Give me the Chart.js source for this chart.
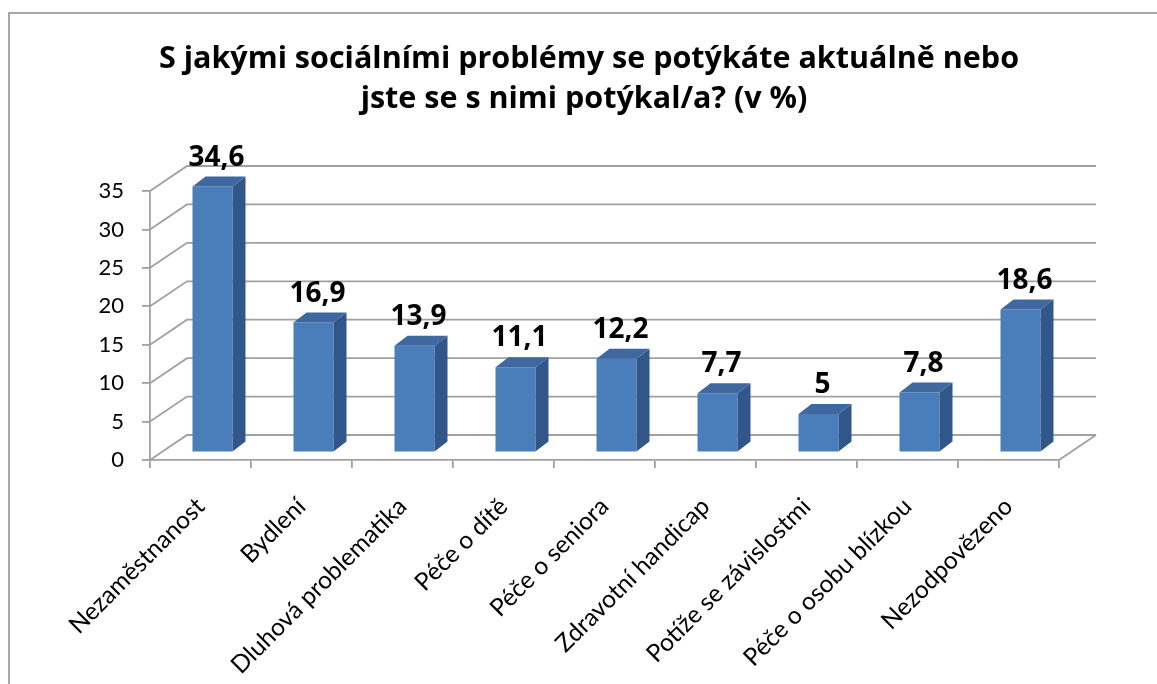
<!DOCTYPE html>
<html>
<head>
<meta charset="utf-8">
<script src="https://cdn.jsdelivr.net/npm/chart.js@4.4.1/dist/chart.umd.min.js"></script>
<style>
  html,body{margin:0;padding:0;background:#fff;}
  #wrap{width:1157px;height:684px;position:relative;}
</style>
</head>
<body>
<div id="wrap"><canvas id="cBar"></canvas></div>
<script>
// data
const kategorie = ['Nezaměstnanost','Bydlení','Dluhová problematika','Péče o dítě','Péče o seniora','Zdravotní handicap','Potíže se závislostmi','Péče o osobu blízkou','Nezodpovězeno'];
const hodnoty   = [34.6, 16.9, 13.9, 11.1, 12.2, 7.7, 5, 7.8, 18.6];
const titulek   = ['S jakými sociálními problémy se potýkáte aktuálně nebo', 'jste se s nimi potýkal/a? (v %)'];
const osaY      = { min:0, max:35, krok:5 };

const FONT = 'Lato, "Open Sans", sans-serif';
const FONT_B = '"Open Sans", Lato, sans-serif';
const GRID = '#a0a0a0';

// 3D look: back wall depth, bar plane shift, bar depth
const WALL = { dx:37, dy:-25 };
const PLANE = { dx:12, dy:-7.5 };
const DEPTH = { dx:13, dy:-10 };
const BAR = { front:'#4a7ebb', side:'#31568a', top:'#3e689f' };

const fmt = v => String(v).replace('.', ',');

const ramecek = {
  id:'ramecek',
  beforeDraw(chart){
    const ctx = chart.ctx;
    ctx.save();
    ctx.strokeStyle = '#8a8a8a';
    ctx.lineWidth = 1.5;
    ctx.beginPath();
    ctx.moveTo(9, chart.height + 2);
    ctx.lineTo(9, 13);
    ctx.lineTo(chart.width + 2, 13);
    ctx.stroke();
    // title
    ctx.fillStyle = '#000';
    ctx.font = 'bold 30.5px ' + FONT_B;
    ctx.textAlign = 'center';
    ctx.textBaseline = 'alphabetic';
    ctx.fillText(titulek[0], 589, 68);
    ctx.fillText(titulek[1], 584, 108);
    ctx.restore();
  }
};

const steny = {
  id:'steny',
  beforeDatasetsDraw(chart){
    const { ctx, chartArea:a, scales:{ y } } = chart;
    ctx.save();
    ctx.strokeStyle = GRID;
    ctx.lineWidth = 1.8;
    ctx.beginPath();
    for (let v = osaY.min; v <= osaY.max; v += osaY.krok){
      const py = y.getPixelForValue(v);
      ctx.moveTo(a.left, py);
      ctx.lineTo(a.left + WALL.dx, py + WALL.dy);
      ctx.lineTo(a.right + WALL.dx, py + WALL.dy);
    }
    ctx.moveTo(a.right, a.bottom);
    ctx.lineTo(a.right + WALL.dx, a.bottom + WALL.dy);
    ctx.stroke();
    ctx.restore();
    // bars front faces are drawn shifted into the depth
    ctx.save();
    ctx.translate(PLANE.dx, PLANE.dy);
  },
  afterDatasetsDraw(chart){
    const ctx = chart.ctx;
    ctx.restore();
    const meta = chart.getDatasetMeta(0);
    ctx.save();
    meta.data.forEach((bar, i) => {
      const l = bar.x - bar.width/2 + PLANE.dx;
      const r = bar.x + bar.width/2 + PLANE.dx;
      const t = bar.y + PLANE.dy;
      const b = bar.base + PLANE.dy;
      // side
      ctx.fillStyle = BAR.side;
      ctx.beginPath();
      ctx.moveTo(r, t); ctx.lineTo(r + DEPTH.dx, t + DEPTH.dy);
      ctx.lineTo(r + DEPTH.dx, b + DEPTH.dy); ctx.lineTo(r, b);
      ctx.closePath(); ctx.fill();
      // top
      ctx.fillStyle = BAR.top;
      ctx.beginPath();
      ctx.moveTo(l, t); ctx.lineTo(l + DEPTH.dx, t + DEPTH.dy);
      ctx.lineTo(r + DEPTH.dx, t + DEPTH.dy); ctx.lineTo(r, t);
      ctx.closePath(); ctx.fill();
      // value label
      ctx.fillStyle = '#000';
      ctx.font = 'bold 28px ' + FONT_B;
      ctx.textAlign = 'center';
      ctx.textBaseline = 'alphabetic';
      ctx.fillText(fmt(hodnoty[i]), (l + r)/2 + 4, t + DEPTH.dy - 11);
    });
    ctx.restore();
  }
};

new Chart(document.getElementById('cBar'), {
  type:'bar',
  data:{
    labels:kategorie,
    datasets:[{ data:hodnoty, backgroundColor:BAR.front, borderWidth:0,
      barPercentage:0.396, categoryPercentage:1, clip:false }]
  },
  options:{
    responsive:true, maintainAspectRatio:false, animation:false,
    layout:{ padding:{ left:9, right:98, top:191, bottom:0 } },
    plugins:{ legend:{ display:false }, tooltip:{ enabled:false }, title:{ display:false } },
    scales:{
      x:{
        afterFit: s => { s.height = 224; },
        grid:{ drawOnChartArea:false, drawTicks:true, tickLength:8, color:GRID, lineWidth:1.8 },
        border:{ display:true, color:GRID, width:1.8 },
        ticks:{ minRotation:45, maxRotation:45, autoSkip:false, color:'#000', padding:24,
          font:{ family:FONT, size:24.5 } }
      },
      y:{
        min:osaY.min, max:osaY.max,
        afterFit: s => { s.width = 141; },
        grid:{ drawOnChartArea:false, drawTicks:true, tickLength:8, color:GRID, lineWidth:1.8 },
        border:{ display:true, color:GRID, width:1.8 },
        ticks:{ stepSize:osaY.krok, color:'#000', padding:18, font:{ family:FONT, size:22 } }
      }
    }
  },
  plugins:[ramecek, steny]
});
</script>
</body>
</html>
